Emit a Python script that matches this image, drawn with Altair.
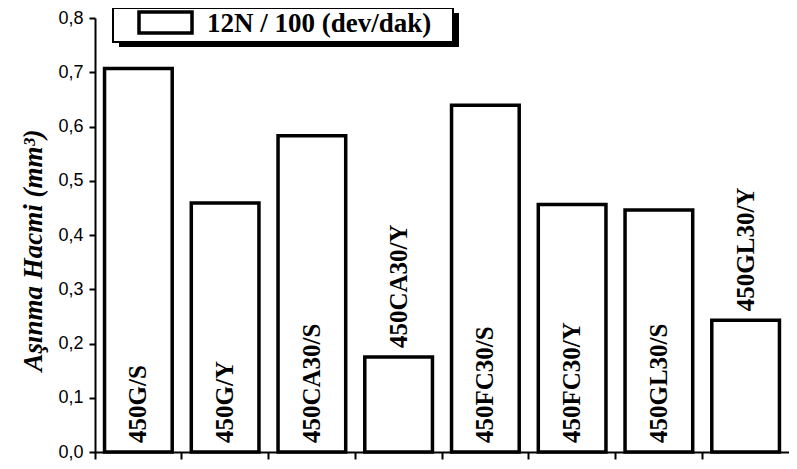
import altair as alt
import pandas as pd

# ---- data ----
samples = ["450G/S", "450G/Y", "450CA30/S", "450CA30/Y",
           "450FC30/S", "450FC30/Y", "450GL30/S", "450GL30/Y"]
wear_volume = [0.707, 0.459, 0.583, 0.175, 0.639, 0.456, 0.446, 0.243]
series_name = "12N / 100 (dev/dak)"
y_ticks = [round(i * 0.05, 2) for i in range(17)]

df = pd.DataFrame({"sample": samples, "value": wear_volume})
leg = pd.DataFrame({"label": [series_name]})

serif = "Liberation Serif"

x_enc = alt.X("sample:N", sort=samples, title=None,
              scale=alt.Scale(paddingInner=0, paddingOuter=0),
              axis=alt.Axis(labels=False, bandPosition=0, tickSize=7,
                            tickWidth=2, tickColor="black", domainColor="black",
                            domainWidth=2, grid=False))
y_enc = alt.Y("value:Q", scale=alt.Scale(domain=[0, 0.8], nice=False, zero=True),
              title="Aşınma Hacmi (mm³)",
              axis=alt.Axis(values=y_ticks,
                            labelExpr="round(datum.value*100) % 10 == 0 ? replace(format(datum.value, '.1f'), '.', ',') : ''",
                            tickSize=6, tickWidth=2, tickColor="black",
                            domainColor="black", domainWidth=2, grid=False,
                            labelFont="Liberation Sans", labelFontSize=18,
                            labelColor="black", labelPadding=6,
                            titleFont=serif, titleFontSize=27, titleFontWeight="bold",
                            titleFontStyle="italic", titleColor="black",
                            titleX=-62, titleY=232, titleAlign="center",
                            titleBaseline="middle"))

bars = alt.Chart(df).mark_bar(
    fill="white", stroke="black", strokeWidth=3.5,
    width=alt.RelativeBandSize(0.78)
).encode(x=x_enc, y=y_enc)

labels = alt.Chart(df).transform_calculate(
    lab_y="datum.value < 0.3 ? datum.value : 0"
).mark_text(
    angle=270, align="left", baseline="middle", dx=9,
    font=serif, fontSize=25, fontWeight="bold", color="black"
).encode(
    x=alt.X("sample:N", sort=samples),
    y=alt.Y("lab_y:Q"),
    text="sample:N",
)

# legend box (decoration)
shadow = alt.Chart(leg).mark_rect(fill="black").encode(
    x=alt.value(24), x2=alt.value(364), y=alt.value(-5), y2=alt.value(29))
box = alt.Chart(leg).mark_rect(fill="white", stroke="black", strokeWidth=2).encode(
    x=alt.value(18), x2=alt.value(358), y=alt.value(-10), y2=alt.value(24))
swatch = alt.Chart(leg).mark_rect(fill="white", stroke="black", strokeWidth=3.5).encode(
    x=alt.value(44), x2=alt.value(97), y=alt.value(-6), y2=alt.value(15))
leg_text = alt.Chart(leg).mark_text(
    align="left", baseline="middle", font=serif, fontSize=27,
    fontWeight="bold", color="black"
).encode(x=alt.value(112), y=alt.value(6), text="label:N")

chart = alt.layer(bars, labels, shadow, box, swatch, leg_text).properties(
    width=694, height=434,
    autosize=alt.AutoSizeParams(type="none"),
    padding={"left": 87, "top": 10, "right": 0, "bottom": 16},
    background="white",
).configure_view(stroke=None)

chart.save("out.html", embed_options={"renderer": "svg", "actions": False})
